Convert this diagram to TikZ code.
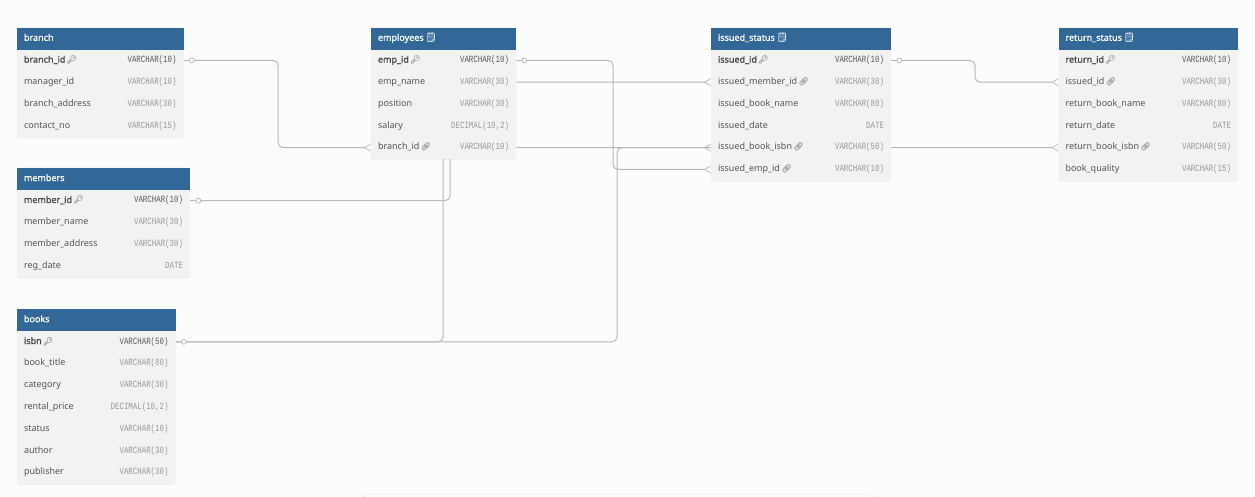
\documentclass[tikz,border=0pt]{standalone}
\usepackage{fontspec}
\setmainfont[BoldFont={Noto Sans}, BoldFeatures={FakeBold=1.2}]{Noto Sans}
\setmonofont[FakeStretch=0.78]{Liberation Mono}
\newfontfamily\iconfont{Noto Emoji}
\usetikzlibrary{arrows.meta, positioning, backgrounds, fit, shadows}
\definecolor{pagebg}{HTML}{FCFCFC}
\definecolor{headblue}{HTML}{316898}
\definecolor{rowgrey}{HTML}{F2F2F2}
\definecolor{linegrey}{HTML}{B8B8BE}
\definecolor{nametext}{HTML}{555555}
\definecolor{typetext}{HTML}{999999}
\newcommand{\tkey}{\,{\mdseries\iconfont\fontsize{8}{9}\selectfont\symbol{"1F511}}}
\newcommand{\tlink}{\,{\mdseries\iconfont\fontsize{8}{9}\selectfont\symbol{"1F517}}}
\newcommand{\tnote}{\,{\mdseries\iconfont\fontsize{9}{9}\selectfont\symbol{"1F5D2}}}
\newcommand{\ty}[1]{\hfill{\mdseries\ttfamily\fontsize{9.5}{10}\selectfont #1}}
\pgfdeclarelayer{paper}
\pgfdeclarelayer{tbl}
\pgfsetlayers{paper,background,tbl,main}
\tikzset{%
	head/.style={rectangle, fill=headblue, text=white, inner ysep=0pt, inner xsep=7pt, outer sep=0pt, align=left,
		minimum height=22pt, text width=#1, text height=7pt, text depth=2.5pt,
		font=\fontsize{9}{11}\selectfont\bfseries},
	row/.style={rectangle, inner ysep=0pt, inner xsep=7pt, outer sep=0pt, align=left, text=nametext,
		minimum height=21.8pt, text width=#1, text height=7pt, text depth=2.5pt,
		font=\fontsize{9}{11}\selectfont},
	pkrow/.style={row=#1, text=black!72, font=\fontsize{9}{11}\selectfont\bfseries},
	tablebg/.style={rectangle, inner xsep=0pt, inner ysep=0.4pt, fill=rowgrey, rounded corners=2pt,
		drop shadow={opacity=0.1, shadow xshift=0pt, shadow yshift=-1pt}},
	link/.style={draw=linegrey, line width=1pt, rounded corners=5pt},
	many/.style={-{Straight Barb[reversed, length=6pt, width=7pt, line width=0.7pt]}},
	dot/.style={circle, draw=linegrey, fill=pagebg, line width=0.7pt, minimum size=5pt, inner sep=0pt},
	panel/.style={rectangle, draw=black!12, fill=white, rounded corners=8pt, anchor=north,
		minimum width=516pt, minimum height=30pt}
}
\begin{document}
\begin{tikzpicture}[x=1pt, y=-1pt]
	\useasboundingbox (0,0) rectangle (1255,496);
	\begin{pgfonlayer}{paper}
		\fill[pagebg] (0,0) rectangle (1255,496);
		\node[panel] (bottom-panel) at (619,494.5) {};
	\end{pgfonlayer}

	% branch
	\node[head=152.5pt, anchor=north west] (branch) at (17,27.5) {branch};
	\node[pkrow=152.5pt] (branch-id) [below=0pt of branch] {branch\_id\tkey\ty{\color{black!65}VARCHAR(10)}};
	\node[row=152.5pt] (branch-mgr) [below=0pt of branch-id] {manager\_id\ty{\color{typetext}VARCHAR(10)}};
	\node[row=152.5pt] (branch-addr) [below=0pt of branch-mgr] {branch\_address\ty{\color{typetext}VARCHAR(30)}};
	\node[row=152.5pt] (branch-contact) [below=0pt of branch-addr] {contact\_no\ty{\color{typetext}VARCHAR(15)}};

	% members
	\node[head=159pt, anchor=north west] (members) at (17,167.8) {members};
	\node[pkrow=159pt] (members-id) [below=0pt of members] {member\_id\tkey\ty{\color{black!65}VARCHAR(10)}};
	\node[row=159pt] (members-name) [below=0pt of members-id] {member\_name\ty{\color{typetext}VARCHAR(30)}};
	\node[row=159pt] (members-addr) [below=0pt of members-name] {member\_address\ty{\color{typetext}VARCHAR(30)}};
	\node[row=159pt] (members-date) [below=0pt of members-addr] {reg\_date\ty{\color{typetext}DATE}};

	% books
	\node[head=144.5pt, anchor=north west] (books) at (17,308.9) {books};
	\node[pkrow=144.5pt] (books-isbn) [below=0pt of books] {isbn\tkey\ty{\color{black!65}VARCHAR(50)}};
	\node[row=144.5pt] (books-title) [below=0pt of books-isbn] {book\_title\ty{\color{typetext}VARCHAR(80)}};
	\node[row=144.5pt] (books-cat) [below=0pt of books-title] {category\ty{\color{typetext}VARCHAR(30)}};
	\node[row=144.5pt] (books-price) [below=0pt of books-cat] {rental\_price\ty{\color{typetext}DECIMAL(10,2)}};
	\node[row=144.5pt] (books-status) [below=0pt of books-price] {status\ty{\color{typetext}VARCHAR(10)}};
	\node[row=144.5pt] (books-author) [below=0pt of books-status] {author\ty{\color{typetext}VARCHAR(30)}};
	\node[row=144.5pt] (books-pub) [below=0pt of books-author] {publisher\ty{\color{typetext}VARCHAR(30)}};

	% employees
	\node[head=131pt, anchor=north west] (emp) at (371,27.5) {employees\tnote};
	\node[pkrow=131pt] (emp-id) [below=0pt of emp] {emp\_id\tkey\ty{\color{black!65}VARCHAR(10)}};
	\node[row=131pt] (emp-name) [below=0pt of emp-id] {emp\_name\ty{\color{typetext}VARCHAR(30)}};
	\node[row=131pt] (emp-pos) [below=0pt of emp-name] {position\ty{\color{typetext}VARCHAR(30)}};
	\node[row=131pt] (emp-sal) [below=0pt of emp-pos] {salary\ty{\color{typetext}DECIMAL(10,2)}};
	\node[row=131pt] (emp-branch) [below=0pt of emp-sal] {branch\_id\tlink\ty{\color{typetext}VARCHAR(10)}};

	% issued_status
	\node[head=166pt, anchor=north west] (iss) at (711,27.5) {issued\_status\tnote};
	\node[pkrow=166pt] (iss-id) [below=0pt of iss] {issued\_id\tkey\ty{\color{black!65}VARCHAR(10)}};
	\node[row=166pt] (iss-member) [below=0pt of iss-id] {issued\_member\_id\tlink\ty{\color{typetext}VARCHAR(30)}};
	\node[row=166pt] (iss-name) [below=0pt of iss-member] {issued\_book\_name\ty{\color{typetext}VARCHAR(80)}};
	\node[row=166pt] (iss-date) [below=0pt of iss-name] {issued\_date\ty{\color{typetext}DATE}};
	\node[row=166pt] (iss-isbn) [below=0pt of iss-date] {issued\_book\_isbn\tlink\ty{\color{typetext}VARCHAR(50)}};
	\node[row=166pt] (iss-emp) [below=0pt of iss-isbn] {issued\_emp\_id\tlink\ty{\color{typetext}VARCHAR(10)}};

	% return_status
	\node[head=165.5pt, anchor=north west] (ret) at (1058.5,27.5) {return\_status\tnote};
	\node[pkrow=165.5pt] (ret-id) [below=0pt of ret] {return\_id\tkey\ty{\color{black!65}VARCHAR(10)}};
	\node[row=165.5pt] (ret-issued) [below=0pt of ret-id] {issued\_id\tlink\ty{\color{typetext}VARCHAR(30)}};
	\node[row=165.5pt] (ret-name) [below=0pt of ret-issued] {return\_book\_name\ty{\color{typetext}VARCHAR(80)}};
	\node[row=165.5pt] (ret-date) [below=0pt of ret-name] {return\_date\ty{\color{typetext}DATE}};
	\node[row=165.5pt] (ret-isbn) [below=0pt of ret-date] {return\_book\_isbn\tlink\ty{\color{typetext}VARCHAR(50)}};
	\node[row=165.5pt] (ret-quality) [below=0pt of ret-isbn] {book\_quality\ty{\color{typetext}VARCHAR(15)}};

	\begin{pgfonlayer}{tbl}
		\node[tablebg, fit=(branch) (branch-contact)] (branch-box) {};
		\node[tablebg, fit=(members) (members-date)] (members-box) {};
		\node[tablebg, fit=(books) (books-pub)] (books-box) {};
		\node[tablebg, fit=(emp) (emp-branch)] (emp-box) {};
		\node[tablebg, fit=(iss) (iss-emp)] (iss-box) {};
		\node[tablebg, fit=(ret) (ret-quality)] (ret-box) {};
	\end{pgfonlayer}

	\begin{scope}[on background layer]
		\draw [link, many] (branch-id.east) -- ++(94.5,0) |- (emp-branch.west);
		\draw [link, many] (emp-id.east) -- ++(97,0) |- (iss-emp.west);
		\draw [link, many] (members-id.east) -- ++(260,0) |- (iss-member.west);
		\draw [link, many] (books-isbn.east) -- ++(441.5,0) |- (iss-isbn.west);
		\draw [link, many] (books-isbn.east) -- ++(267.5,0) |- (ret-isbn.west);
		\draw [link, many] (iss-id.east) -- ++(84,0) |- (ret-issued.west);
	\end{scope}

	\node[dot] (branch-dot) [right=5.5pt of branch-id.east] {};
	\node[dot] (members-dot) [right=5.5pt of members-id.east] {};
	\node[dot] (books-dot) [right=5.5pt of books-isbn.east] {};
	\node[dot] (emp-dot) [right=5.5pt of emp-id.east] {};
	\node[dot] (iss-dot) [right=5.5pt of iss-id.east] {};
\end{tikzpicture}
\end{document}
